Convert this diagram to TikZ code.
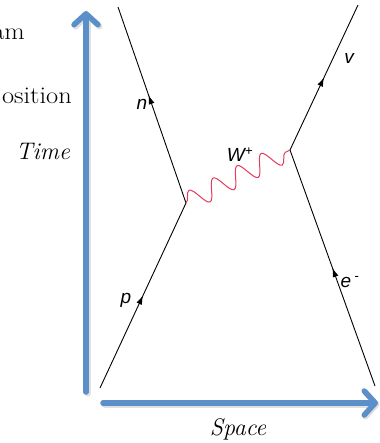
\documentclass[tikz,border=0pt]{standalone}
\usepackage{fontspec}
\newfontfamily\labfont{Liberation Sans}
\usetikzlibrary{arrows.meta,decorations.pathmorphing,decorations.markings}
\definecolor{axisblue}{HTML}{5B8FC9}
\definecolor{wred}{HTML}{E23B5C}
\tikzset{
  axis/.style={line width=5.5pt, axisblue, -{Straight Barb[length=11pt,width=24pt,line width=5.5pt,round]}, line cap=round},
  axshadow/.style={line width=6pt, black!12, -{Straight Barb[length=11pt,width=24pt,line width=6pt,round]}, line cap=round},
  fermion/.style={line width=0.9pt, black},
  midarrow/.style={postaction={decorate}, decoration={markings, mark=at position #1 with {\arrow{Latex[length=9pt,width=6pt]}}}},
  wave/.style={wred, line width=1pt, decorate, decoration={snake, segment length=27pt, amplitude=10pt}},
  lab/.style={font=\labfont\itshape\fontsize{19}{21}\selectfont, inner sep=0pt},
  axlab/.style={font=\itshape\fontsize{24}{28}\selectfont, inner sep=0pt},
  cut/.style={font=\fontsize{24}{28}\selectfont, inner sep=0pt}
}
\begin{document}
\begin{tikzpicture}[x=1pt,y=-1pt]
\useasboundingbox (0,0) rectangle (379,443);
% cropped text on the left
\node[cut, anchor=base east, xscale=1.1] (am) at (25,40) {am};
\node[cut, anchor=base east, xscale=1.1] (pos) at (72,104) {osition};
\node[axlab, anchor=base east] (time) at (70,160) {Time};
% axes
\coordinate (tb) at (86,392);
\coordinate (tt) at (86,11);
\coordinate (sl) at (103,403);
\coordinate (sr) at (378,403);
\draw[axshadow] ([shift={(1.5,1.5)}]tb) -- ([shift={(1.5,1.5)}]tt);
\draw[axshadow] ([shift={(1.5,1.5)}]sl) -- ([shift={(1.5,1.5)}]sr);
\draw[axis] (tb) -- (tt);
\draw[axis] (sl) -- (sr);
\node[axlab, anchor=base] (space) at (238,435) {Space};
% vertices and ends
\coordinate (v1) at (186,203);
\coordinate (v2) at (290,150);
\coordinate (nend) at (118,7);
\coordinate (pend) at (100,388);
\coordinate (nuend) at (358,5);
\coordinate (eend) at (375,386);
% fermion lines
\draw[fermion, midarrow=0.5] (pend) -- (v1);
\draw[fermion, midarrow=0.55] (v1) -- (nend);
\draw[fermion, midarrow=0.5] (v2) -- (nuend);
\draw[fermion, midarrow=0.5] (eend) -- (v2);
% W boson
\draw[wave] (v1) -- (v2);
% labels
\node[lab] (n) at (142,104) {n};
\node[lab] (p) at (126,300) {p};
\node[lab] (nu) at (349,58) {v};
\node[lab] (e) at (350,282) {e\,\textsuperscript{-}};
\node[lab] (w) at (240,155) {W\textsuperscript{+}};
\end{tikzpicture}
\end{document}
